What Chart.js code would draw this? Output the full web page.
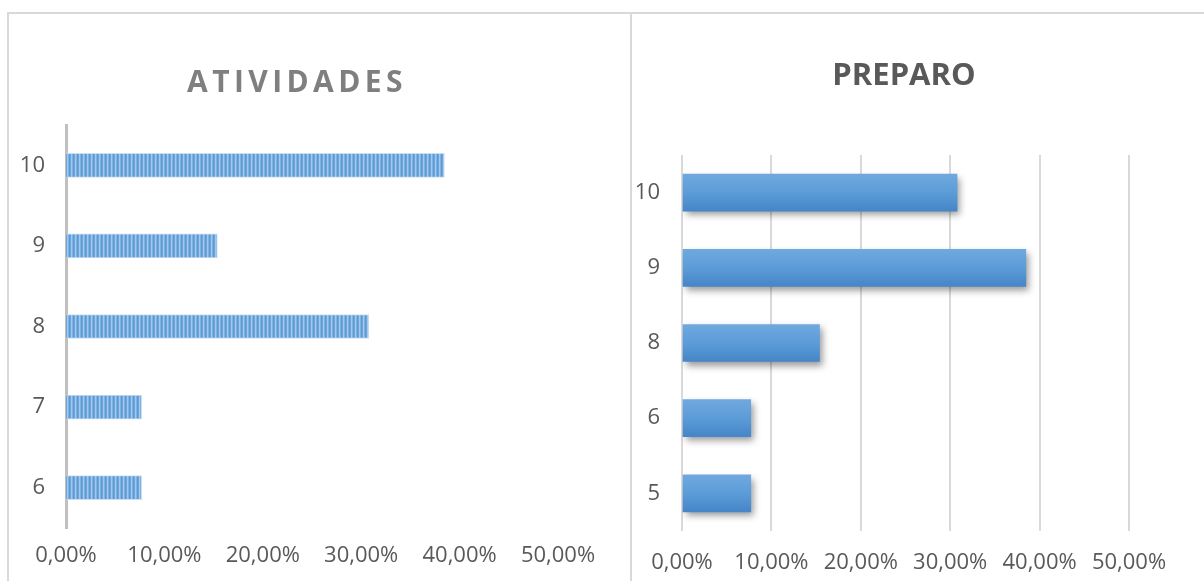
<!DOCTYPE html>
<html>
<head>
<meta charset="utf-8">
<script src="https://cdn.jsdelivr.net/npm/chart.js@4/dist/chart.umd.min.js"></script>
<style>
  html, body { margin: 0; padding: 0; background: #fff; }
  body { width: 1204px; height: 581px; position: relative; overflow: hidden; font-family: "Open Sans", sans-serif; }
  .frame { position: absolute; background: #d9d9d9; }
  .panel { position: absolute; top: 13px; height: 568px; }
  .panel canvas { position: absolute; left: 0; top: 0; }
  .title { position: absolute; text-align: center; font-weight: 700; line-height: 40px; white-space: nowrap; }
</style>
</head>
<body>
  <div class="frame" style="left:8px; top:12px; width:1196px; height:2px;"></div>
  <div class="frame" style="left:7px; top:12px; width:2px; height:569px;"></div>
  <div class="frame" style="left:630px; top:12px; width:2px; height:569px;"></div>

  <div class="panel" style="left:9px; width:621px;">
    <canvas id="atividades" width="621" height="568"></canvas>
    <div class="title" style="left:134px; width:300px; top:48px; font-size:30px; color:#7f7f7f; letter-spacing:4.4px; padding-left:4px;">ATIVIDADES</div>
  </div>
  <div class="panel" style="left:632px; width:572px;">
    <canvas id="preparo" width="572" height="568"></canvas>
    <div class="title" style="left:122px; width:300px; top:40px; font-size:31px; color:#595959;">PREPARO</div>
  </div>

<script>
  // notas e percentuais de cada gráfico
  const atividadesLabels = ["10", "9", "8", "7", "6"];
  const atividadesValues = [38.46, 15.38, 30.77, 7.69, 7.69];
  const preparoLabels = ["10", "9", "8", "6", "5"];
  const preparoValues = [30.77, 38.46, 15.38, 7.69, 7.69];

  const tickFont = { family: "'Open Sans', sans-serif", size: 22 };
  const tickColor = "#595959";
  const pct = (v) => v.toFixed(2).replace(".", ",") + "%";

  // listras verticais das barras de ATIVIDADES
  function stripePattern() {
    const c = document.createElement("canvas");
    c.width = 4; c.height = 4;
    const g = c.getContext("2d");
    const cols = ["#5b9bd5", "#6ba6dc", "#a4c8ec", "#80b3e2"];
    cols.forEach((col, i) => { g.fillStyle = col; g.fillRect(i, 0, 1, 4); });
    return g.createPattern(c, "repeat");
  }

  // sombra das barras de PREPARO
  const barShadow = {
    id: "barShadow",
    beforeDatasetsDraw(chart) {
      const ctx = chart.ctx;
      ctx.save();
      ctx.shadowColor = "rgba(0,0,0,0.4)";
      ctx.shadowBlur = 7;
      ctx.shadowOffsetX = 3;
      ctx.shadowOffsetY = 4;
    },
    afterDatasetsDraw(chart) {
      chart.ctx.restore();
    },
  };

  new Chart(document.getElementById("atividades"), {
    type: "bar",
    data: {
      labels: atividadesLabels,
      datasets: [{ data: atividadesValues, backgroundColor: stripePattern(), borderColor: "rgba(190,215,240,0.8)", borderWidth: 1, barThickness: 24 }],
    },
    options: {
      indexAxis: "y",
      responsive: false,
      animation: false,
      layout: { padding: { top: 112, right: 72, bottom: 0, left: 0 } },
      plugins: { legend: { display: false }, tooltip: { enabled: false } },
      scales: {
        x: {
          min: 0, max: 50,
          ticks: { stepSize: 10, font: tickFont, color: tickColor, padding: 15, callback: (v) => pct(v) },
          grid: { display: false, drawTicks: false },
          border: { display: false },
          afterFit: (s) => { s.height = 53; },
        },
        y: {
          z: 1, // eixo por cima das barras
          ticks: { font: tickFont, color: tickColor, padding: 21 },
          grid: { display: false, drawTicks: false },
          border: { display: true, color: "#bfbfbf", width: 3 },
          afterFit: (s) => { s.width = 57; },
        },
      },
    },
  });

  new Chart(document.getElementById("preparo"), {
    type: "bar",
    data: {
      labels: preparoLabels,
      datasets: [{
        data: preparoValues,
        barThickness: 37,
        backgroundColor: (c) => {
          const chart = c.chart;
          if (c.dataIndex === undefined || !chart.chartArea) return "#5b9bd5";
          const y = chart.scales.y.getPixelForValue(c.dataIndex);
          const g = chart.ctx.createLinearGradient(0, y - 18, 0, y + 18);
          g.addColorStop(0, "#70a8de");
          g.addColorStop(0.5, "#5b9cd8");
          g.addColorStop(1, "#4686c9");
          return g;
        },
      }],
    },
    plugins: [barShadow],
    options: {
      indexAxis: "y",
      responsive: false,
      animation: false,
      layout: { padding: { top: 142, right: 75, bottom: 0, left: 0 } },
      plugins: { legend: { display: false }, tooltip: { enabled: false } },
      scales: {
        x: {
          min: 0, max: 50,
          ticks: { stepSize: 10, font: tickFont, color: tickColor, padding: 19, callback: (v) => pct(v) },
          grid: { display: true, drawTicks: false, color: "#d9d9d9", lineWidth: 2 },
          border: { display: false },
          afterFit: (s) => { s.height = 50; },
        },
        y: {
          ticks: { font: tickFont, color: tickColor, padding: 22 },
          grid: { display: false, drawTicks: false },
          border: { display: false },
          afterFit: (s) => { s.width = 50; },
        },
      },
    },
  });
</script>
</body>
</html>
